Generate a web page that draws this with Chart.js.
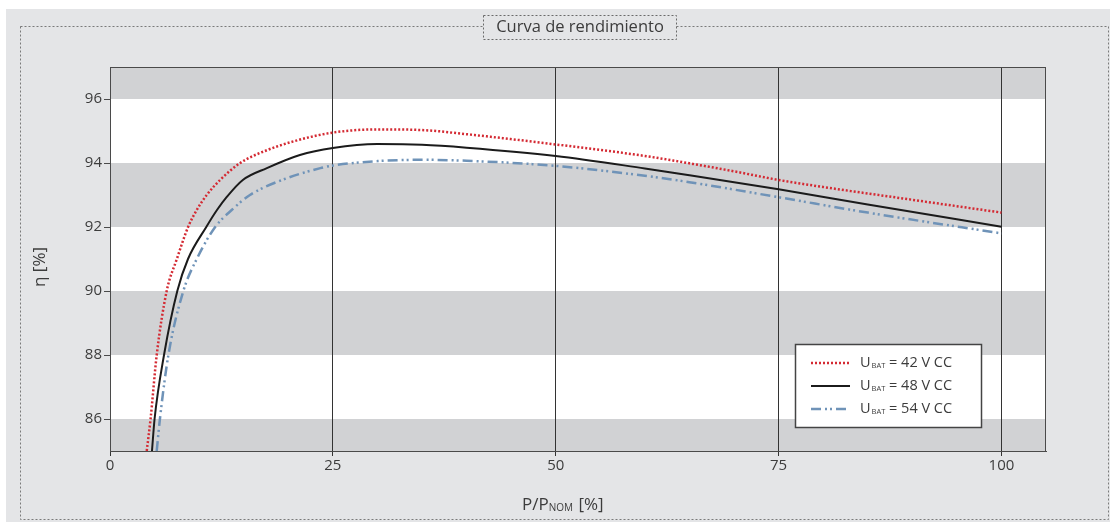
<!DOCTYPE html>
<html>
<head>
<meta charset="utf-8">
<script src="https://cdn.jsdelivr.net/npm/chart.js@4.4.1/dist/chart.umd.min.js"></script>
<style>
  html, body { margin: 0; padding: 0; background: #fff; }
  canvas { display: block; }
</style>
</head>
<body>
<canvas id="chart" width="1110" height="522"></canvas>
<script>
// Data: load P/Pnom [%] and efficiency [%] per battery voltage
const load42 = [4.12, 4.55, 5.24, 6.36, 7.5, 8.76, 9.73, 10.85, 12.35, 14.6, 17.6, 20.9, 25, 30, 35, 40, 50, 60, 65, 70, 75, 80, 90, 100];
const eff42  = [85.0, 86.0, 88.0, 90.0, 91.0, 92.0, 92.53, 93.0, 93.47, 94.0, 94.4, 94.7, 94.95, 95.05, 95.03, 94.9, 94.58, 94.22, 93.99, 93.74, 93.47, 93.25, 92.85, 92.45];

const load48 = [4.71, 5.0, 6.06, 7.55, 8.75, 10.8, 12, 13.1, 14.9, 17.6, 21.3, 25, 30, 35, 40, 50, 60, 65, 75, 85, 100];
const eff48  = [85.0, 86.0, 88.0, 90.0, 91.0, 92.0, 92.53, 92.94, 93.47, 93.84, 94.25, 94.47, 94.59, 94.57, 94.48, 94.22, 93.83, 93.62, 93.18, 92.7, 92.01];

const load54 = [5.24, 5.6, 6.55, 8.23, 9.73, 11.8, 13.65, 15.7, 19.3, 23.6, 25, 30, 35, 40, 50, 60, 65, 75, 85, 100];
const eff54  = [85.0, 86.0, 88.0, 90.0, 91.0, 92.0, 92.53, 93.0, 93.47, 93.84, 93.92, 94.06, 94.1, 94.07, 93.91, 93.6, 93.4, 92.93, 92.45, 91.8];

const seriesLabels = ['42 V CC', '48 V CC', '54 V CC'];
const xTicks = [0, 25, 50, 75, 100];
const yTicks = [86, 88, 90, 92, 94, 96];

const chartTitle = 'Curva de rendimiento';
const FONT = '"Open Sans", sans-serif';
const TEXT = '#3c3c3c';

function pts(xs, ys) {
  return xs.map((x, i) => ({ x: x, y: ys[i] }));
}

// draw "U" + subscript + rest, returns end x
function drawParts(ctx, x, y, parts) {
  parts.forEach(p => {
    ctx.font = p.size + 'px ' + FONT;
    ctx.fillText(p.t, x, y + (p.dy || 0));
    x += ctx.measureText(p.t).width + (p.gap || 0);
  });
  return x;
}

const frame = {
  id: 'frame',
  beforeDraw(chart) {
    const { ctx, chartArea: a, scales: { y } } = chart;
    ctx.save();
    ctx.fillStyle = '#fff';
    ctx.fillRect(0, 0, chart.width, chart.height);
    ctx.fillStyle = '#e4e5e7';
    ctx.fillRect(6, 9, chart.width - 6, chart.height - 9);

    // outer dashed frame
    ctx.setLineDash([2, 2]);
    ctx.strokeStyle = '#7a7a7a';
    ctx.lineWidth = 1;
    ctx.strokeRect(20.5, 26.5, 1088, 493);
    ctx.setLineDash([]);

    // plot background + grey bands every other 2%
    ctx.fillStyle = '#fff';
    ctx.fillRect(a.left, a.top, a.width, a.height);
    ctx.fillStyle = '#d1d2d4';
    for (let v = 84; v < y.max; v += 4) {
      const lo = Math.max(v, y.min), hi = Math.min(v + 2, y.max);
      if (hi <= lo) continue;
      const top = y.getPixelForValue(hi), bot = y.getPixelForValue(lo);
      ctx.fillRect(a.left, top, a.width, bot - top);
    }

    // title box
    ctx.fillStyle = '#e4e5e7';
    ctx.fillRect(483, 15, 193, 24);
    ctx.setLineDash([2, 2]);
    ctx.strokeStyle = '#6a6a6a';
    ctx.strokeRect(483.5, 15.5, 193, 24);
    ctx.setLineDash([]);
    ctx.fillStyle = TEXT;
    ctx.font = '16.5px ' + FONT;
    ctx.textAlign = 'center';
    ctx.textBaseline = 'middle';
    ctx.fillText(chartTitle, 580, 27);
    ctx.restore();
  },
  afterDraw(chart) {
    const { ctx, chartArea: a } = chart;
    ctx.save();
    ctx.strokeStyle = '#4a4a4a';
    ctx.lineWidth = 1;
    ctx.strokeRect(a.left + 0.5, a.top + 0.5, a.width - 1, a.height);

    // legend
    const lx = 795, ly = 344, lw = 186, lh = 83;
    ctx.fillStyle = '#fff';
    ctx.fillRect(lx, ly, lw, lh);
    ctx.strokeStyle = '#444';
    ctx.lineWidth = 1.5;
    ctx.strokeRect(lx + 0.5, ly + 0.5, lw, lh);
    chart.data.datasets.forEach((ds, i) => {
      const yy = 363 + i * 23;
      ctx.beginPath();
      ctx.setLineDash(ds.borderDash || []);
      ctx.strokeStyle = ds.borderColor;
      ctx.lineWidth = ds.borderWidth;
      ctx.moveTo(811, yy);
      ctx.lineTo(850, yy);
      ctx.stroke();
      ctx.setLineDash([]);
      ctx.fillStyle = TEXT;
      ctx.textAlign = 'left';
      ctx.textBaseline = 'middle';
      drawParts(ctx, 860, yy, [
        { t: 'U', size: 14.5, gap: 1 },
        { t: 'BAT', size: 7.5, dy: 3 },
        { t: ' = ' + seriesLabels[i], size: 14.5 }
      ]);
    });

    // axis titles
    ctx.fillStyle = TEXT;
    ctx.textBaseline = 'middle';
    ctx.textAlign = 'left';
    drawParts(ctx, 522, 505, [
      { t: 'P/P', size: 17 },
      { t: 'NOM', size: 10, dy: 3, gap: 1 },
      { t: ' [%]', size: 17 }
    ]);
    ctx.translate(40, 267);
    ctx.rotate(-Math.PI / 2);
    ctx.textAlign = 'center';
    ctx.font = '17px ' + FONT;
    ctx.fillText('η [%]', 0, 0);
    ctx.restore();
  }
};

new Chart(document.getElementById('chart'), {
  type: 'line',
  data: {
    datasets: [
      {
        label: 'U_BAT = ' + seriesLabels[0],
        data: pts(load42, eff42),
        borderColor: '#d42a33',
        borderWidth: 2.5,
        borderDash: [2, 2]
      },
      {
        label: 'U_BAT = ' + seriesLabels[1],
        data: pts(load48, eff48),
        borderColor: '#1b1b1b',
        borderWidth: 2
      },
      {
        label: 'U_BAT = ' + seriesLabels[2],
        data: pts(load54, eff54),
        borderColor: '#6f93b8',
        borderWidth: 2.5,
        borderDash: [10, 4, 2, 3, 2, 4]
      }
    ]
  },
  options: {
    responsive: false,
    devicePixelRatio: 1,
    animation: false,
    layout: { padding: { left: 0, top: 67, right: 64, bottom: 0 } },
    elements: {
      point: { radius: 0 },
      line: { cubicInterpolationMode: 'monotone', fill: false }
    },
    plugins: {
      legend: { display: false },
      tooltip: { enabled: false }
    },
    scales: {
      x: {
        type: 'linear',
        min: 0,
        max: 105,
        afterFit: s => { s.height = 71; },
        afterBuildTicks: s => { s.ticks = xTicks.map(v => ({ value: v })); },
        grid: { color: '#333', lineWidth: 1, tickLength: 5 },
        border: { color: '#4a4a4a' },
        ticks: { color: TEXT, font: { family: FONT, size: 15 }, padding: 1 }
      },
      y: {
        min: 85,
        max: 97,
        afterFit: s => { s.width = 110; },
        afterBuildTicks: s => { s.ticks = yTicks.map(v => ({ value: v })); },
        grid: { drawOnChartArea: false, color: '#4a4a4a', tickLength: 6 },
        border: { color: '#4a4a4a' },
        ticks: { color: TEXT, font: { family: FONT, size: 15 }, padding: 2 }
      }
    }
  },
  plugins: [frame]
});
</script>
</body>
</html>
